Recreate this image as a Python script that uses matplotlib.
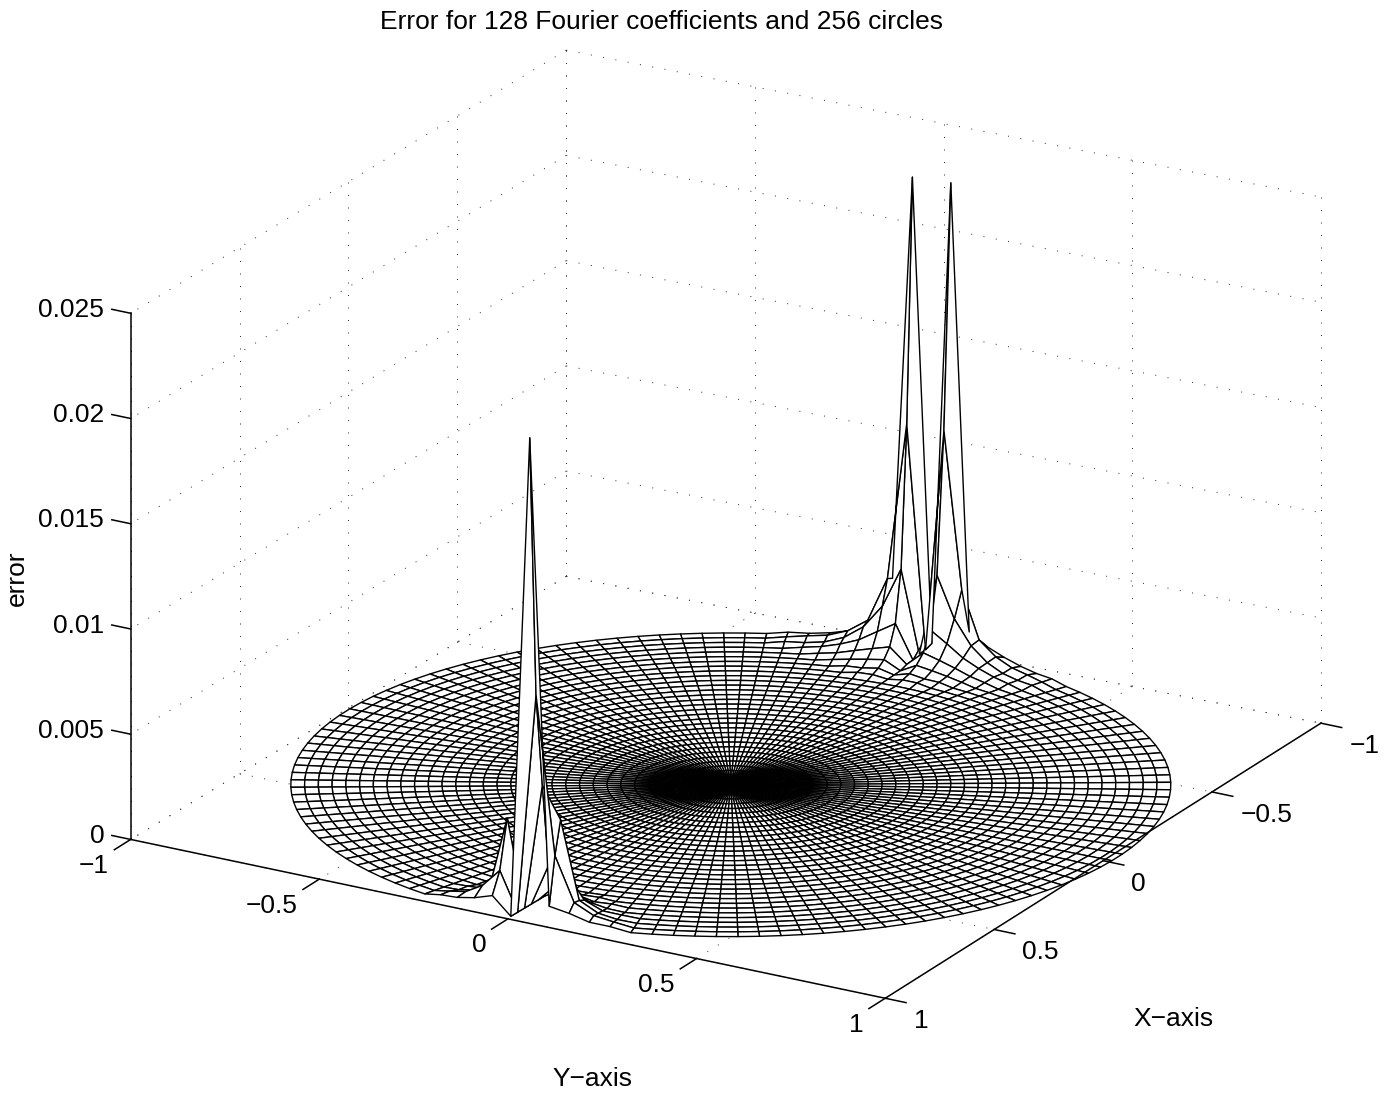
import numpy as np
import matplotlib
matplotlib.use("Agg")
import matplotlib.pyplot as plt
from mpl_toolkits.mplot3d import proj3d

plt.rcParams['font.family'] = ['Liberation Sans', 'DejaVu Sans']

# tick values
x_ticks = [-1, -0.5, 0, 0.5, 1]
y_ticks = [-1, -0.5, 0, 0.5, 1]
z_ticks = [0, 0.005, 0.01, 0.015, 0.02, 0.025]
x_labels = ['\u22121', '\u22120.5', '0', '0.5', '1']
y_labels = ['\u22121', '\u22120.5', '0', '0.5', '1']
z_labels = ['0', '0.005', '0.01', '0.015', '0.02', '0.025']

# mesh size: every 8th circle of 256, and 128 spokes
n_rings = 32
n_spokes = 128

front_spokes = [-4, -3, -2, -1, 0, 1, 2, 3, 4, 5]
front_rings = [32, 31, 30, 29, 28, 27, 26]
front_err = [
    [.0002, .0003, .0005, .0008, 0, .0229, .0008, .0006, .0003, .0002],
    [.0002, .0004, .0009, .0018, 0, .0105, .0030, .0009, .0004, .0002],
    [.0001, .0003, .0008, .0041, 0, .0060, .0045, .0008, .0003, .0001],
    [.0001, .0002, .0006, .0016, 0, .0020, .0018, .0006, .0002, .0001],
    [.0000, .0001, .0003, .0007, 0, .0008, .0007, .0003, .0001, .0000],
    [.0000, .0001, .0001, .0003, 0, .0004, .0003, .0001, .0001, .0000],
    [.0000, .0000, .0001, .0001, 0, .0002, .0001, .0001, .0000, .0000],
]

rear_spokes = [58, 59, 60, 61, 62, 63, 64, 65, 66, 67, 68, 69, 70, 71, 72]
rear_rings = [32, 31, 30, 29, 28, 27, 26, 25]
rear_err = [
    [.0001, .0001, .0002, .0004, .0007, .0012, .02235, .0003, .0223, .0031, .0010, .0004, .0002, .0001, .0001],
    [.0001, .0002, .0003, .0006, .0012, .0034, .0108, .0002, .0108, .0033, .0012, .0006, .0003, .0002, .0001],
    [.0001, .0001, .0002, .0005, .0011, .0022, .0041, .0002, .0041, .0022, .0011, .0005, .0002, .0001, .0001],
    [.0000, .0001, .0002, .0004, .0007, .0012, .0017, .0001, .0017, .0012, .0007, .0004, .0002, .0001, .0000],
    [.0000, .0000, .0001, .0002, .0004, .0006, .0008, .0001, .0008, .0006, .0004, .0002, .0001, .0000, .0000],
    [.0000, .0000, .0000, .0001, .0002, .0003, .0004, .0000, .0004, .0003, .0002, .0001, .0000, .0000, .0000],
    [.0000, .0000, .0000, .0000, .0001, .0001, .0002, .0000, .0002, .0001, .0001, .0000, .0000, .0000, .0000],
    [.0000, .0000, .0000, .0000, .0000, .0001, .0001, .0000, .0001, .0001, .0000, .0000, .0000, .0000, .0000],
]

# fill the polar grid
err = np.zeros((n_rings + 1, n_spokes + 1))
for table, rings, spokes in [(front_err, front_rings, front_spokes), (rear_err, rear_rings, rear_spokes)]:
    for i, ring in enumerate(rings):
        for j, spoke in enumerate(spokes):
            err[ring, spoke % n_spokes] = table[i][j]
err[:, n_spokes] = err[:, 0]

az = 30.0
el = 21.38
a = np.radians(az)

r = np.linspace(0, 1, n_rings + 1)
th = np.linspace(0, 2 * np.pi, n_spokes + 1)
R, T = np.meshgrid(r, th, indexing='ij')
# the disc in the reference is a bit flatter along the view direction
p_d = 0.956 * R * np.cos(T - a) + 0.022
p_l = 1.01 * R * np.sin(T - a) + 0.0115
X = p_d * np.cos(a) - p_l * np.sin(a)
Y = p_d * np.sin(a) + p_l * np.cos(a)


def warp(x, y):
    # back corner of the box sits about 12 px lower than a true projection
    w = (1 - x) * (1 - y) / 4
    return x + 0.0654 * w, y + 0.0377 * w


W, H = 1392, 1097
fig = plt.figure(figsize=(W / 100, H / 100), dpi=100, facecolor='white')
side = 1316
ax = fig.add_axes([50 / W, -97 / H, side / W, side / H], projection='3d', proj_type='ortho')
ax.set_box_aspect((1, 1, 0.6485))
ax.view_init(elev=el, azim=az)
ax.set_xlim(-1, 1)
ax.set_ylim(-1, 1)
ax.set_zlim(0, 0.025)
ax.set_xticks([])
ax.set_yticks([])
ax.set_zticks([])
ax.set_axis_off()
ax.computed_zorder = False

# dotted grid on floor and the two back walls
dot = dict(color='#333333', lw=0.72, ls=(0, (1, 11.5)), zorder=1)


def dotted(x0, y0, z0, x1, y1, z1):
    xa, ya = warp(x0, y0)
    xb, yb = warp(x1, y1)
    ax.plot([xa, xb], [ya, yb], [z0, z1], **dot)


for v in x_ticks:
    dotted(v, -1, 0, v, 1, 0)
    dotted(v, -1, 0, v, -1, 0.025)
for v in y_ticks:
    dotted(-1, v, 0, 1, v, 0)
    dotted(-1, v, 0, -1, v, 0.025)
for v in z_ticks:
    dotted(-1, -1, v, 1, -1, v)
    dotted(-1, -1, v, -1, 1, v)

ax.plot_surface(X, Y, err, rstride=1, cstride=1, color='white', edgecolor='black',
                linewidth=1.0, shade=False, antialiased=True, zorder=2)

# box axes and ticks
solid = dict(color='black', lw=1.1, zorder=3)
ax.plot([1, 1], [-1, 1], [0, 0], **solid)
ax.plot([-1, 1], [1, 1], [0, 0], **solid)
ax.plot([1, 1], [-1, -1], [0, 0.025], **solid)
fs = 19


def tick_text(x, y, z, s, ha):
    # plain 2D text at the projected position of a 3D point
    px, py, _ = proj3d.proj_transform(x, y, z, ax.get_proj())
    ax.text2D(px, py, s, transform=ax.transData, fontsize=fs, ha=ha, va='center')


for v, s in zip(x_ticks, x_labels):
    ax.plot([v, v], [1, 1.055], [0, 0], **solid)
    tick_text(v, 1.075, -0.0008, s, 'left')
for v, s in zip(y_ticks, y_labels):
    ax.plot([1, 1.075], [v, v], [0, 0], **solid)
    tick_text(1.1, v, -0.0006, s, 'right')
for v, s in zip(z_ticks, z_labels):
    ax.plot([1, 1], [-1, -1.05], [v, v], **solid)
    tick_text(1, -1.07, v - 0.0001, s, 'right')

fig.text(662 / W, 1 - 22 / H, 'Error for 128 Fourier coefficients and 256 circles',
         fontsize=fs, ha='center', va='center')
fig.text(1173 / W, 1 - 1019 / H, 'X\u2212axis', fontsize=fs, ha='center', va='center')
fig.text(592 / W, 1 - 1079 / H, 'Y\u2212axis', fontsize=fs, ha='center', va='center')
fig.text(17 / W, 1 - 578 / H, 'error', fontsize=fs, ha='center', va='center', rotation=90)

fig.savefig('out.png', dpi=100, facecolor='white')
